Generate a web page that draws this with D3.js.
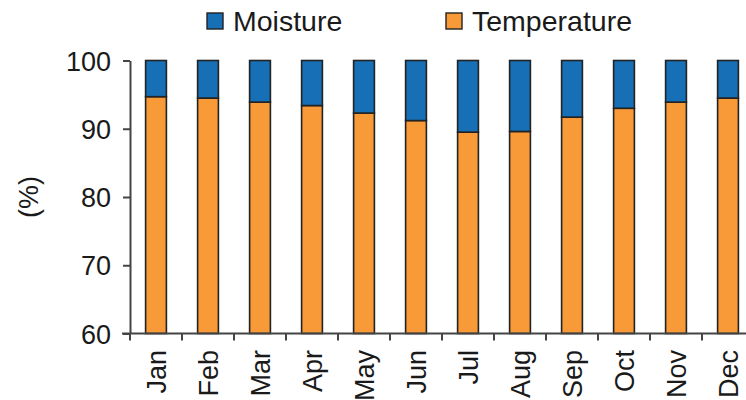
<!DOCTYPE html>
<html>
<head>
<meta charset="utf-8">
<script src="https://cdn.jsdelivr.net/npm/d3@7"></script>
<style>
  body { margin: 0; background: #fff; }
  text { font-family: "Liberation Sans", Arial, sans-serif; fill: #1a1a1a; }
</style>
</head>
<body>
<svg id="chart" width="746" height="400"></svg>
<script>
// data
var months = ["Jan", "Feb", "Mar", "Apr", "May", "Jun", "Jul", "Aug", "Sep", "Oct", "Nov", "Dec"];
var temperature = [94.7, 94.5, 93.9, 93.4, 92.3, 91.2, 89.5, 89.6, 91.7, 93.0, 93.9, 94.5];
var moisture = temperature.map(function(t) { return 100 - t; });
var yTicks = [60, 70, 80, 90, 100];
var seriesNames = ["Moisture", "Temperature"];
var seriesColors = ["#176fb5", "#f89a38"];

var svg = d3.select("#chart");

var x = d3.scaleBand()
  .domain(months)
  .range([130, 754])
  .paddingInner(0.6)
  .paddingOuter(0.3);

var y = d3.scaleLinear()
  .domain([60, 100])
  .range([333.5, 60.5]);

// stacked: temperature at bottom, moisture on top (base of the axis is 60)
var rows = months.map(function(m, i) {
  return { month: m, Temperature: temperature[i] - 60, Moisture: moisture[i] };
});
var stack = d3.stack().keys(["Temperature", "Moisture"]);
var layers = stack(rows);
var color = d3.scaleOrdinal().domain(seriesNames).range(seriesColors);

svg.append("g").selectAll("g")
  .data(layers)
  .enter().append("g")
    .attr("fill", function(d) { return color(d.key); })
  .selectAll("rect")
  .data(function(d) { return d; })
  .enter().append("rect")
    .attr("x", function(d) { return x(d.data.month); })
    .attr("width", x.bandwidth())
    .attr("y", function(d) { return y(d[1] + 60); })
    .attr("height", function(d) { return y(d[0] + 60) - y(d[1] + 60); })
    .attr("stroke", "#222")
    .attr("stroke-width", 1.6);

// y axis
var yAxis = d3.axisLeft(y)
  .tickValues(yTicks)
  .tickSize(7)
  .tickSizeOuter(0)
  .tickPadding(12);

var gy = svg.append("g")
  .attr("transform", "translate(130,0)")
  .call(yAxis);
gy.selectAll("text").style("font-size", "27px").attr("dy", "0.36em");
gy.selectAll("line").attr("stroke", "#444").attr("stroke-width", 2);
gy.select(".domain").attr("stroke", "#444").attr("stroke-width", 2);

// x axis: line, ticks between the bands, rotated labels
var step = x.step();
var gx = svg.append("g");
gx.append("line")
  .attr("x1", 122).attr("x2", 746)
  .attr("y1", y(60)).attr("y2", y(60))
  .attr("stroke", "#444").attr("stroke-width", 2);

gx.selectAll(".tick")
  .data(months)
  .enter().append("line")
    .attr("class", "tick")
    .attr("x1", function(d) { return x(d) - step * x.paddingOuter(); })
    .attr("x2", function(d) { return x(d) - step * x.paddingOuter(); })
    .attr("y1", y(60))
    .attr("y2", y(60) + 7)
    .attr("stroke", "#444").attr("stroke-width", 2);

gx.selectAll(".label")
  .data(months)
  .enter().append("text")
    .attr("class", "label")
    .attr("transform", function(d) {
      return "translate(" + (x(d) + x.bandwidth() / 2) + "," + 350 + ") rotate(-90)";
    })
    .attr("text-anchor", "end")
    .attr("dy", "0.36em")
    .style("font-size", "27px")
    .text(function(d) { return d; });

// y title
svg.append("text")
  .attr("transform", "translate(28,197) rotate(-90)")
  .attr("text-anchor", "middle")
  .attr("dy", "0.36em")
  .style("font-size", "27px")
  .text("(%)");

// legend
var legendX = [207, 446];
var legend = svg.append("g").selectAll("g")
  .data(seriesNames)
  .enter().append("g")
    .attr("transform", function(d, i) { return "translate(" + legendX[i] + ",13)"; });
legend.append("rect")
  .attr("width", 16).attr("height", 16)
  .attr("fill", function(d) { return color(d); })
  .attr("stroke", "#222").attr("stroke-width", 1.4);
legend.append("text")
  .attr("x", 26).attr("y", 18)
  .style("font-size", "28.5px")
  .text(function(d) { return d; });
</script>
</body>
</html>
